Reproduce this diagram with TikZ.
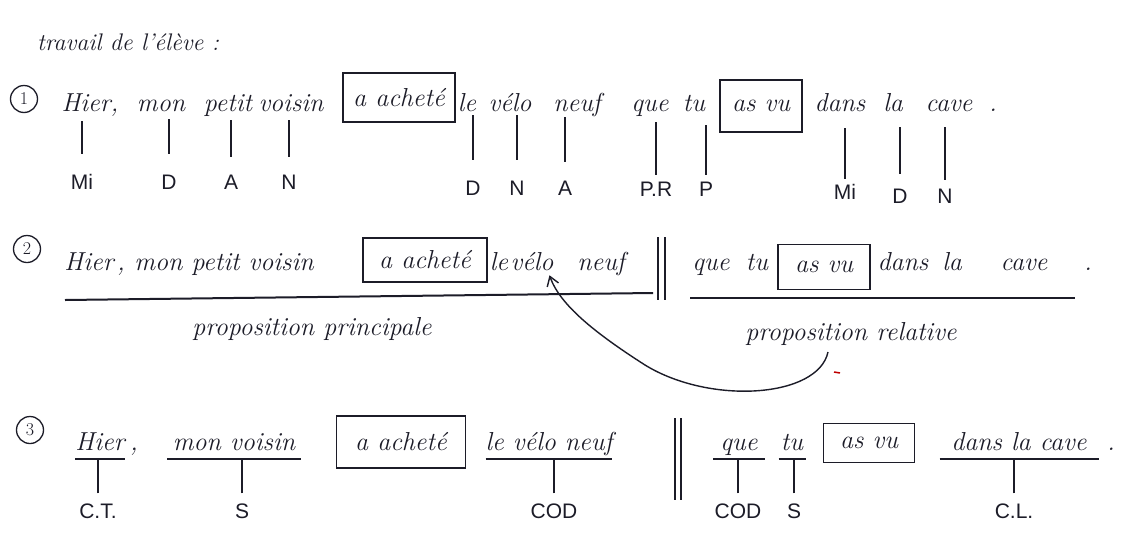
\documentclass[tikz,border=0pt]{standalone}
\usepackage{fontspec}
\setsansfont{Liberation Sans}
\usetikzlibrary{arrows.meta}
\definecolor{ink}{RGB}{28,28,40}
\newcommand\mytick[3]{\draw[tick] (#1.north) ++(0,-#2) -- ++(0,-#3);}
\begin{document}
\begin{tikzpicture}[x=1pt,y=-1pt,
  every node/.style={inner sep=0pt, outer sep=0pt, text=ink},
  wd/.style={font=\fontsize{26}{30}\selectfont\itshape, anchor=base},
  lbl/.style={font=\fontsize{21}{24}\selectfont\sffamily, anchor=base},
  tick/.style={draw=ink, line width=1.2pt},
  ul/.style={draw=ink, line width=2pt},
  bar/.style={draw=ink, line width=1.5pt},
  bx/.style={draw=ink, line width=1.3pt, font=\fontsize{26}{30}\selectfont\itshape},
  num/.style={draw=ink, circle, line width=1.3pt, minimum size=27pt, font=\fontsize{18}{20}\selectfont}
]
\useasboundingbox[fill=white] (0,0) rectangle (1123,536);

% title
\node[wd, anchor=base west, font=\fontsize{24}{28}\selectfont\itshape] (title) at (37,50) {travail de l'élève :};

% ---------- line 1 ----------
\node[num] (c1) at (24,99) {1};
\node[wd] (w1hier) at (90,111) {Hier,};
\node[wd] (w1mon) at (161,111) {mon};
\node[wd] (w1pet) at (228,111) {petit};
\node[wd] (w1voi) at (291,111) {voisin};
\node[bx, minimum width=112pt, minimum height=49pt] (b1) at (399,97.5) {a acheté};
\node[wd] (w1le) at (467,111) {le};
\node[wd] (w1vel) at (510,111) {vélo};
\node[wd] (w1neu) at (577,111) {neuf};
\node[wd] (w1que) at (650,111) {que};
\node[wd] (w1tu) at (694,111) {tu};
\node[bx, minimum width=82pt, minimum height=52pt] (b2) at (761,106) {as vu};
\node[wd] (w1dan) at (840,111) {dans};
\node[wd] (w1la) at (893,111) {la};
\node[wd] (w1cav) at (949,111) {cave};
\node[wd] (w1pt) at (993,111) {.};

\node[lbl] (l1a) at (82,189) {Mi};
\node[lbl] (l1b) at (169,189) {D};
\node[lbl] (l1c) at (231,189) {A};
\node[lbl] (l1d) at (289,189) {N};
\node[lbl] (l1e) at (473,195) {D};
\node[lbl] (l1f) at (517,195) {N};
\node[lbl] (l1g) at (565,195) {A};
\node[lbl] (l1h) at (656,196) {P.R};
\node[lbl] (l1i) at (706,196) {P};
\node[lbl] (l1j) at (845,199) {Mi};
\node[lbl] (l1k) at (900,203) {D};
\node[lbl] (l1l) at (945,203) {N};

\mytick{l1a}{20}{33}
\mytick{l1b}{21}{35}
\mytick{l1c}{18}{37}
\mytick{l1d}{18}{37}
\mytick{l1e}{21}{45}
\mytick{l1f}{21}{45}
\mytick{l1g}{19}{45}
\mytick{l1h}{7}{53}
\mytick{l1i}{7}{50}
\mytick{l1j}{5}{51}
\mytick{l1k}{15}{47}
\mytick{l1l}{9}{53}

% ---------- line 2 ----------
\node[num] (c2) at (27,249) {2};
\node[wd] (w2hier) at (89,270) {Hier};
\node[wd] (w2cm) at (121,270) {,};
\node[wd] (w2mpv) at (224,270) {mon petit voisin};
\node[bx, minimum width=124pt, minimum height=44pt] (b3) at (425,260) {a acheté};
\node[wd] (w2le) at (499,270) {le};
\node[wd] (w2vel) at (532,270) {vélo};
\node[wd] (w2neu) at (601,270) {neuf};
\node[wd] (w2que) at (711,270) {que};
\node[wd] (w2tu) at (757,270) {tu};
\node[bx, minimum width=92pt, minimum height=45pt] (b4) at (824,267) {as vu};
\node[wd] (w2dan) at (903,270) {dans};
\node[wd] (w2la) at (952,270) {la};
\node[wd] (w2cav) at (1024,270) {cave};
\node[wd] (w2pt) at (1088,270) {.};

\coordinate (u2a) at (65,300);
\coordinate (u2b) at (653,293);
\coordinate (u2c) at (690,298);
\coordinate (u2d) at (1075,298);
\draw[ul] (u2a) -- (u2b);
\draw[ul] (u2c) -- (u2d);
\coordinate (bar2t) at (0,237);
\coordinate (bar2b) at (0,300);
\coordinate (x2a) at (658,0);
\coordinate (x2b) at (665,0);
\draw[bar] (x2a |- bar2t) -- (x2a |- bar2b);
\draw[bar] (x2b |- bar2t) -- (x2b |- bar2b);

\node[wd] (ppri) at (312,335) {proposition principale};
\node[wd] (prel) at (851,340) {proposition relative};

\coordinate (arrS) at (828,352);
\draw[draw=ink, line width=1.4pt, -{Straight Barb[length=9pt,width=12pt]}]
  (arrS) .. controls (818,398) and (710,405) .. (645,365)
         .. controls (595,333) and (560,305) .. ([xshift=-4pt,yshift=-5pt]w2vel.south east);
\coordinate (red1) at (834,372);
\draw[red!75!black, line width=1.5pt] (red1) -- ++(6,1);

% ---------- line 3 ----------
\node[num] (c3) at (30,430) {3};
\node[wd, minimum width=50pt] (w3hier) at (100,450) {Hier};
\node[wd] (w3cm) at (134,450) {,};
\node[wd, minimum width=134pt] (w3mv) at (234,450) {mon voisin};
\node[bx, minimum width=129pt, minimum height=52pt] (b5) at (401,442) {a acheté};
\node[wd, minimum width=122pt] (w3lvn) at (549,450) {le vélo neuf};
\node[wd, minimum width=52pt] (w3que) at (739,450) {que};
\node[wd, minimum width=27pt] (w3tu) at (792,450) {tu};
\node[bx, minimum width=91pt, minimum height=39pt] (b6) at (869,443) {as vu};
\node[wd, minimum width=159pt] (w3dlc) at (1019,450) {dans la cave};
\node[wd] (w3pt) at (1111,450) {.};

\coordinate (ul3) at (0,459);
\foreach \n in {w3hier,w3mv,w3lvn,w3que,w3tu,w3dlc}
  \draw[ul] (\n.west |- ul3) -- (\n.east |- ul3);

\coordinate (bar3t) at (0,418);
\coordinate (bar3b) at (0,500);
\coordinate (x3a) at (675,0);
\coordinate (x3b) at (681,0);
\draw[bar] (x3a |- bar3t) -- (x3a |- bar3b);
\draw[bar] (x3b |- bar3t) -- (x3b |- bar3b);

\node[lbl] (l3a) at (98,518) {C.T.};
\node[lbl] (l3b) at (242,518) {S};
\node[lbl] (l3c) at (554,518) {COD};
\node[lbl] (l3d) at (738,518) {COD};
\node[lbl] (l3e) at (794,518) {S};
\node[lbl] (l3f) at (1014,518) {C.L.};

\foreach \n in {l3a,l3b,l3c,l3d,l3e,l3f}
  \draw[tick] (\n.north) ++(0,-10) -- (\n.north |- ul3);
\end{tikzpicture}
\end{document}
